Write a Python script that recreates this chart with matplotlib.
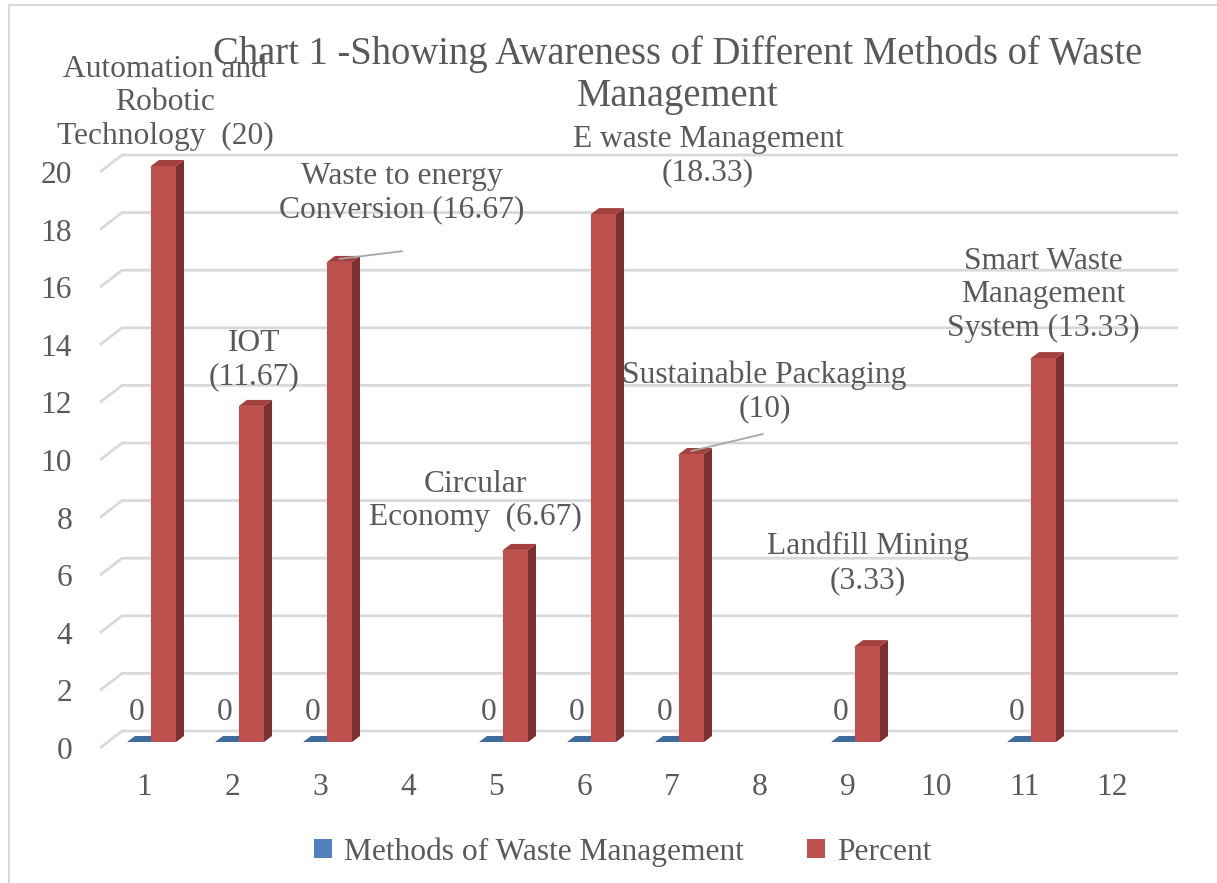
import matplotlib.pyplot as plt
import numpy as np
from matplotlib.patches import Polygon, Patch
from matplotlib.lines import Line2D

plt.rcParams['font.family'] = ['Liberation Serif', 'DejaVu Serif']

# categories along the x axis
cats = np.arange(1, 13)
# method names (wrapped as shown on the data labels) and their percentages
names = ["Automation and\nRobotic\nTechnology", "IOT", "Waste to energy\nConversion", None,
         "Circular\nEconomy", "E waste Management", "Sustainable Packaging", None,
         "Landfill Mining", None, "Smart Waste\nManagement\nSystem", None]
name_sep = ["  ", "\n", " ", None, "  ", "\n", "\n", None, "\n", None, " ", None]
percent = [20, 11.67, 16.67, np.nan, 6.67, 18.33, 10, np.nan, 3.33, np.nan, 13.33, np.nan]
methods = [0, 0, 0, np.nan, 0, 0, 0, np.nan, 0, np.nan, 0, np.nan]

# where each red data label sits (data coords), and which ones get a leader line
label_xy = [(1.24, 22.4), (2.25, 13.47), (3.93, 19.27), None, (4.77, 8.58),
            (7.41, 20.54), (8.05, 12.38), None, (9.23, 6.41), None, (11.22, 15.73), None]
leaders = {2: (3.93, 17.25), 6: (8.03, 10.9)}

W, H = 1217, 883
fs = 22.7
fig = plt.figure(figsize=(W / 100, H / 100), dpi=100)
ax = fig.add_axes([100 / W, 1 - 748 / H, 1056 / W, 576 / H])
ax.set_xlim(0.5, 12.5)
ax.set_ylim(0, 20)

px = 1 / 88.0     # one pixel in x data units
py = 1 / 28.8     # one pixel in y data units
txt = '#595959'
grid_c = '#D9D9D9'

# back wall gridlines with the slanted floor edge on the left
gdx, gdy = 22 * px, 17 * py
for v in range(0, 21, 2):
    ax.plot([0.5, 0.5 + gdx, 12.5 + gdx], [v, v + gdy, v + gdy],
            color=grid_c, lw=2, clip_on=False, zorder=1, solid_capstyle='butt')

# bars sit part-way into the depth
base = 6 * py
shift = 7 * px
bw = 25 * px
bdx, bdy = 8 * px, 6 * py

red_front, red_top, red_side = '#C0504D', '#A4403D', '#7C2F2E'
blue_front, blue_top = '#4F81BD', '#3F6A9E'

for i, c in enumerate(cats):
    m = methods[i]
    if not np.isnan(m):
        x0 = c - 17 * px
        x1 = x0 + 24 * px
        top = base + m
        ax.add_patch(Polygon([(x0, top), (x1, top), (x1 + bdx, top + bdy), (x0 + bdx, top + bdy)],
                             closed=True, fc=blue_top, ec='none', clip_on=False, zorder=3))
        ax.text(x0 + 10 * px, top + 29 * py, '0', ha='center', va='center',
                fontsize=fs, color=txt, zorder=6)

    p = percent[i]
    if not np.isnan(p):
        x0 = c + shift
        x1 = x0 + bw
        top = base + p
        ax.bar(x0, p, width=bw, bottom=base, align='edge', color=red_front,
               clip_on=False, zorder=4)
        ax.add_patch(Polygon([(x1, base), (x1 + bdx, base + bdy), (x1 + bdx, top + bdy), (x1, top)],
                             closed=True, fc=red_side, ec='none', clip_on=False, zorder=4))
        ax.add_patch(Polygon([(x0, top), (x1, top), (x1 + bdx, top + bdy), (x0 + bdx, top + bdy)],
                             closed=True, fc=red_top, ec='none', clip_on=False, zorder=4))

        label = names[i] + name_sep[i] + '({:g})'.format(p)
        lx, ly = label_xy[i]
        ax.text(lx, ly, label, ha='center', va='center', multialignment='center',
                fontsize=fs, color=txt, linespacing=1.2, zorder=6)
        if i in leaders:
            ex, ey = leaders[i]
            ax.plot([x0 + bw / 2, ex], [top + 3 * py, ey], color='#A6A6A6', lw=1.3,
                    clip_on=False, zorder=5)

# axes styling
for s in ax.spines.values():
    s.set_visible(False)
ax.set_yticks(range(0, 21, 2))
ax.set_xticks(cats)
ax.tick_params(axis='both', length=0, labelsize=fs, labelcolor=txt)
ax.tick_params(axis='y', pad=20)
ax.tick_params(axis='x', pad=18)
ax.patch.set_visible(False)

fig.text(0.557, 1 - 75 / H, 'Chart 1 -Showing Awareness of Different Methods of Waste\nManagement',
         ha='center', va='center', fontsize=27.8, color=txt, linespacing=1.17)

handles = [Patch(fc=blue_front, ec='none', label='Methods of Waste Management'),
           Patch(fc=red_front, ec='none', label='Percent')]
leg = fig.legend(handles=handles, loc='center', bbox_to_anchor=(623 / W, 1 - 852 / H),
                 ncol=2, frameon=False, fontsize=fs, handlelength=0.55, handleheight=0.55,
                 handletextpad=0.4, columnspacing=2.0)
for t in leg.get_texts():
    t.set_color(txt)

# chart area border
fig.add_artist(Line2D([9 / W, 9 / W], [0, 1 - 5 / H], color=grid_c, lw=1.5, transform=fig.transFigure))
fig.add_artist(Line2D([9 / W, 1], [1 - 5 / H, 1 - 5 / H], color=grid_c, lw=1.5, transform=fig.transFigure))

fig.savefig('out.png', dpi=100)
